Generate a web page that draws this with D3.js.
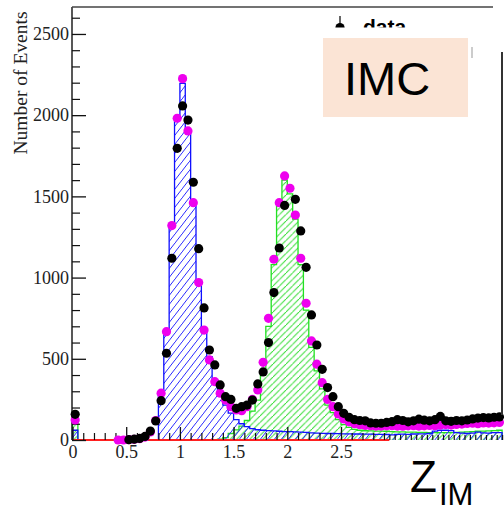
<!DOCTYPE html>
<html>
<head>
<meta charset="utf-8">
<script src="https://cdn.jsdelivr.net/npm/d3@7"></script>
<style>
  body { margin: 0; background: #fff; }
  svg { display: block; }
</style>
</head>
<body>
<svg id="chart" width="504" height="511"></svg>
<script>
// Histogram binning: 80 bins of 0.05 from 0 to 4
const binWidth = 0.05;

// Data points (black), one value per bin, null = not shown
const dataCounts = [
  158, null, null, null, null, null, null, null, null, null,
  2, 5, 10, 22, 55, 117, 242, 534, 1119, 1796,
  2057, 1970, 1587, 1178, 813, 554, 462, 339, 267, 250,
  195, 205, 215, 246, 345, 419, 600, 908, 1182, 1444,
  null, 1482, 1287, 1063, 770, 585, 435, 323, 267, 205,
  164, 140, 125, 120, 118, 105, 103, 103, 108, 113,
  125, 120, 112, 118, 128, 122, 118, 125, 145, 118,
  115, 120, 118, 123, 130, 135, 138, 136, 140, 142
];

// Total MC (magenta)
const mcCounts = [
  123, null, null, null, null, null, null, null, 0, 0,
  2, 4, 8, 18, 50, 120, 288, 667, 1320, 1981,
  2225, 1903, 1461, 969, 677, 493, 359, 288, 246, 205,
  185, 180, 205, 250, 308, 478, 749, 1113, 1461, 1626,
  1550, 1385, 1119, 842, 610, 467, 353, 250, 205, 160,
  130, 112, 100, 94, 90, 88, 86, 86, 87, 88,
  86, 85, 87, 88, 86, 87, 90, 88, 92, 95,
  92, 96, 98, 102, 103, 100, 105, 104, 106, 108
];

// Blue component (peak near 1)
const blueCounts = [
  60, 0, 0, 0, 0, 0, 0, 0, 0, 0,
  0, 0, 0, 0, 0, 0, 288, 667, 1324, 1991,
  2196, 1899, 1457, 975, 677, 513, 369, 270, 215, 165,
  125, 100, 82, 70, 63, 60, 58, 56, 54, 52,
  51, 50, 49, 47, 44, 42, 41, 40, 40, 39,
  38, 38, 37, 37, 36, 36, 35, 35, 34, 32,
  35, 36, 35, 37, 38, 38, 40, 55, 60, 60,
  58, 45, 42, 40, 42, 48, 44, 42, 46, 45
];

// Green component (peak near 2)
const greenCounts = [
  105, 0, 0, 0, 0, 0, 0, 0, 0, 0,
  0, 0, 0, 0, 0, 0, 0, 0, 0, 0,
  0, 0, 0, 0, 0, 0, 0, 5, 15, 40,
  62, 85, 120, 178, 245, 420, 700, 1080, 1440, 1600,
  1515, 1360, 1080, 800, 570, 425, 315, 215, 168, 125,
  95, 78, 66, 60, 57, 56, 55, 55, 54, 52,
  50, 50, 48, 48, 47, 47, 46, 45, 45, 46,
  46, 47, 48, 50, 52, 54, 55, 56, 58, 60
];

// Red component is empty over this range
const redRange = [0, 2.95];

const yMajorTicks = [0, 500, 1000, 1500, 2000, 2500];
const xMajorTicks = [0, 0.5, 1, 1.5, 2, 2.5];

const svg = d3.select("#chart");

let x = d3.scaleLinear().domain([0, 4]).range([72.5, 502.1]);
let y = d3.scaleLinear().domain([0, 2666]).range([440, 7]);

// Hatch patterns ("/" lines)
const defs = svg.append("defs");
function addHatch(id, color, w, h) {
    const p = defs.append("pattern")
        .attr("id", id)
        .attr("patternUnits", "userSpaceOnUse")
        .attr("width", w)
        .attr("height", h);
    p.append("path")
        .attr("d", `M0,${h} L${w},0 M${-w},${h} L0,0 M${w},${2 * h} L${2 * w},${h}`)
        .style("fill", "none")
        .style("stroke", color)
        .style("stroke-width", "1px");
}
addHatch("hatch-g", "#33dd33", 6.5, 6.5);
addHatch("hatch-b", "#2a2aff", 7, 9);

// step histogram: hatched fill + outline
function drawHist(counts, color, hatchId) {
    let pts = counts.map((c, i) => [i * binWidth, c]);
    const end = counts.length * binWidth;
    pts.push([end, counts[counts.length - 1]]);

    const area = d3.area()
        .x(d => x(d[0]))
        .y0(y(0))
        .y1(d => y(d[1]))
        .curve(d3.curveStepAfter);

    svg.append("path")
        .datum(pts)
        .attr("d", area)
        .style("fill", `url(#${hatchId})`)
        .style("stroke", "none");

    const line = d3.line()
        .x(d => x(d[0]))
        .y(d => y(d[1]))
        .curve(d3.curveStepAfter);

    svg.append("path")
        .datum([[0, 0], ...pts, [end, 0]])
        .attr("d", line)
        .attr("fill", "none")
        .attr("stroke", color)
        .attr("stroke-width", 1.3);
}

drawHist(greenCounts, "#22e022", "hatch-g");
drawHist(blueCounts, "#1010ff", "hatch-b");

// red (empty) component along the baseline
svg.append("line")
    .attr("x1", x(redRange[0])).attr("x2", x(redRange[1]))
    .attr("y1", y(0)).attr("y2", y(0))
    .attr("stroke", "#ff2020")
    .attr("stroke-width", 1.8);

// Y axis
svg.append("line")
    .attr("x1", 72).attr("x2", 72)
    .attr("y1", 7).attr("y2", y(0))
    .attr("stroke", "#111")
    .attr("stroke-width", 1.4);

svg.append("g")
    .attr("transform", "translate(72,0)")
    .call(d3.axisLeft(y).tickValues(yMajorTicks).tickSizeInner(-14).tickSizeOuter(0)
        .tickPadding(3).tickFormat(d => String(d)))
    .call(g => g.select(".domain").remove())
    .call(g => g.selectAll("line").attr("stroke", "#111").attr("stroke-width", 1.3))
    .call(g => g.selectAll("text")
        .style("font-family", "'Liberation Serif', 'Times New Roman', serif")
        .style("font-size", "18px")
        .attr("fill", "#222"));

svg.append("g")
    .attr("transform", "translate(72,0)")
    .call(d3.axisLeft(y)
        .tickValues(d3.range(100, 2700, 100).filter(v => v % 500 !== 0))
        .tickSizeInner(-8).tickSizeOuter(0).tickFormat(""))
    .call(g => g.select(".domain").remove())
    .call(g => g.selectAll("line").attr("stroke", "#111").attr("stroke-width", 1.2));

// X axis
svg.append("g")
    .attr("transform", `translate(0,${y(0)})`)
    .call(d3.axisBottom(x).tickValues(xMajorTicks).tickSizeInner(-13).tickSizeOuter(0)
        .tickPadding(5.5).tickFormat(d => String(d)))
    .call(g => g.select(".domain").remove())
    .call(g => g.selectAll("line").attr("stroke", "#111").attr("stroke-width", 1.3))
    .call(g => g.selectAll("text")
        .style("font-family", "'Liberation Serif', 'Times New Roman', serif")
        .style("font-size", "18px")
        .attr("fill", "#222"));

svg.append("g")
    .attr("transform", `translate(0,${y(0)})`)
    .call(d3.axisBottom(x)
        .tickValues(d3.range(1, 30).filter(i => i % 5 !== 0).map(i => i / 10))
        .tickSizeInner(-7).tickSizeOuter(0).tickFormat(""))
    .call(g => g.select(".domain").remove())
    .call(g => g.selectAll("line").attr("stroke", "#111").attr("stroke-width", 1.2));

svg.append("g")
    .attr("transform", `translate(0,${y(0)})`)
    .call(d3.axisBottom(x)
        .tickValues(d3.range(59, 81).map(i => i * binWidth))
        .tickSizeInner(-5).tickSizeOuter(0).tickFormat(""))
    .call(g => g.select(".domain").remove())
    .call(g => g.selectAll("line").attr("stroke", "#111").attr("stroke-width", 1.2));

// top frame line
svg.append("line")
    .attr("x1", 72).attr("x2", 493)
    .attr("y1", 7).attr("y2", 7)
    .attr("stroke", "#444")
    .attr("stroke-width", 1.5);

// markers
function drawPoints(counts, color) {
    svg.append("g")
        .selectAll("circle")
        .data(counts.map((c, i) => ({c: c, i: i})).filter(d => d.c !== null))
        .enter().append("circle")
        .attr("cx", d => x((d.i + 0.5) * binWidth))
        .attr("cy", d => y(d.c))
        .attr("r", 4.6)
        .attr("fill", color);
}
drawPoints(mcCounts, "#ee00ee");
drawPoints(dataCounts, "#000");

// y axis title
svg.append("text")
    .attr("transform", "translate(27,83) rotate(-90)")
    .style("text-anchor", "middle")
    .style("font-family", "'Liberation Serif', 'Times New Roman', serif")
    .style("font-size", "19.5px")
    .attr("fill", "#222")
    .text("Number of Events");

// legend (partly hidden)
svg.append("line")
    .attr("x1", 340).attr("x2", 340)
    .attr("y1", 16).attr("y2", 27)
    .attr("stroke", "#000")
    .attr("stroke-width", 1.2);
svg.append("circle")
    .attr("cx", 340).attr("cy", 27.5).attr("r", 4.6)
    .attr("fill", "#000");
svg.append("text")
    .attr("x", 363).attr("y", 33.5)
    .style("font-family", "'Liberation Sans', Arial, sans-serif")
    .style("font-size", "21px")
    .style("font-weight", "bold")
    .text("data");
svg.append("rect")
    .attr("x", 310).attr("y", 27.5)
    .attr("width", 180).attr("height", 11)
    .attr("fill", "#fff");

// IMC box
svg.append("rect")
    .attr("x", 323).attr("y", 38)
    .attr("width", 145).attr("height", 79)
    .attr("fill", "#fbe4d5");
svg.append("text")
    .attr("x", 344).attr("y", 95)
    .style("font-family", "'Liberation Sans', Arial, sans-serif")
    .style("font-size", "47px")
    .text("IMC");

svg.append("line")
    .attr("x1", 472).attr("x2", 472)
    .attr("y1", 47).attr("y2", 58)
    .attr("stroke", "#999")
    .attr("stroke-width", 1);

// right frame edge
svg.append("line")
    .attr("x1", 502).attr("x2", 502)
    .attr("y1", 52).attr("y2", 415)
    .attr("stroke", "#333")
    .attr("stroke-width", 2);

// Z_IM label
const zLabel = svg.append("text")
    .attr("x", 410).attr("y", 492)
    .style("font-family", "'Liberation Sans', Arial, sans-serif")
    .style("font-size", "44px");
zLabel.append("tspan").text("Z");
zLabel.append("tspan")
    .attr("x", 439).attr("y", 505)
    .style("font-size", "31px")
    .text("IM");
</script>
</body>
</html>
